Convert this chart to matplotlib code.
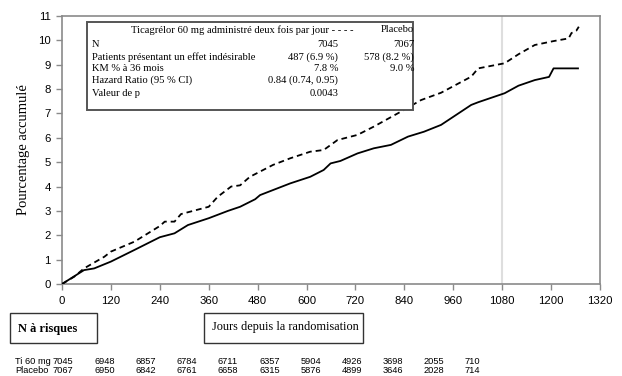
import matplotlib
matplotlib.use("Agg")
import matplotlib.pyplot as plt
from matplotlib.patches import Rectangle

# ---- data ----
days_dashed = [0, 30, 54, 104, 120, 178, 240, 252, 276, 292, 360, 382, 415, 437, 461,
               518, 560, 609, 642, 676, 725, 765, 831, 881, 930, 1004, 1021, 1086,
               1120, 1160, 1206, 1243, 1250, 1262, 1268]
pct_dashed = [0, 0.30, 0.64, 1.12, 1.33, 1.74, 2.38, 2.56, 2.56, 2.87, 3.17, 3.58, 4.00,
              4.05, 4.40, 4.89, 5.16, 5.43, 5.50, 5.91, 6.12, 6.46, 7.07, 7.55, 7.85,
              8.51, 8.85, 9.06, 9.43, 9.81, 9.97, 10.08, 10.30, 10.40, 10.56]

days_solid = [0, 54, 79, 120, 178, 240, 276, 309, 360, 407, 437, 474, 486, 560, 609,
              642, 659, 683, 725, 765, 807, 849, 888, 930, 1004, 1021, 1086, 1120,
              1160, 1195, 1206, 1266]
pct_solid = [0, 0.57, 0.64, 0.92, 1.40, 1.92, 2.08, 2.42, 2.70, 3.00, 3.17, 3.48, 3.65,
             4.13, 4.40, 4.68, 4.95, 5.05, 5.36, 5.57, 5.71, 6.05, 6.25, 6.53, 7.35,
             7.46, 7.83, 8.14, 8.37, 8.50, 8.85, 8.85]

x_ticks = [0, 120, 240, 360, 480, 600, 720, 840, 960, 1080, 1200, 1320]
y_ticks = list(range(0, 12))

risk_ti = [7045, 6948, 6857, 6784, 6711, 6357, 5904, 4926, 3698, 2055, 710]
risk_pl = [7067, 6950, 6842, 6761, 6658, 6315, 5876, 4899, 3646, 2028, 714]

legend_rows = ["N", "Patients présentant un effet indésirable", "KM % à 36 mois",
               "Hazard Ratio (95 % CI)", "Valeur de p"]
legend_ti = ["7045", "487 (6.9 %)", "7.8 %", "0.84 (0.74, 0.95)", "0.0043"]
legend_pl = ["7067", "578 (8.2 %)", "9.0 %", "", ""]

# ---- figure ----
W, H = 622, 376
fig = plt.figure(figsize=(W / 100, H / 100), dpi=100)
fig.patch.set_facecolor("white")

def fx(px):
    return px / W

def fy(py):
    return 1 - py / H

L, R, T, B = 62, 600, 16, 284
ax = fig.add_axes([fx(L), fy(B), fx(R - L), (B - T) / H])

sans = ["Liberation Sans", "DejaVu Sans"]
serif = ["Liberation Serif", "DejaVu Serif"]
gray = "#8a8a8a"

ax.axvline(1080, color="#dedede", lw=1.5, zorder=1)
ax.plot(days_dashed, pct_dashed, color="black", lw=1.3, ls=(0, (3.2, 2.2)), zorder=3)
ax.plot(days_solid, pct_solid, color="black", lw=1.3, zorder=3)

ax.set_xlim(0, 1320)
ax.set_ylim(0, 11)
ax.set_xticks(x_ticks)
ax.set_yticks(y_ticks)
for s in ax.spines.values():
    s.set_color(gray)
    s.set_linewidth(1.2)
ax.tick_params(axis="both", colors=gray, length=4, width=1.0, labelcolor="black",
               labelsize=8.2)
for lab in ax.get_xticklabels() + ax.get_yticklabels():
    lab.set_fontfamily(sans)
ax.tick_params(axis="x", pad=5)
ax.tick_params(axis="y", pad=4)

ax.set_ylabel("Pourcentage accumulé", fontfamily=serif, fontsize=10.5, labelpad=6)

# ---- legend box ----
bx0, by0, bx1, by1 = 87, 22, 413, 110
fig.patches.append(Rectangle((fx(bx0), fy(by1)), fx(bx1 - bx0), (by1 - by0) / H,
                             transform=fig.transFigure, facecolor="white",
                             edgecolor="#555555", lw=1.4, zorder=5))
tfs = 7.6
fig.text(fx(242), fy(30), "Ticagrélor 60 mg administré deux fois par jour - - - -",
         ha="center", va="center", fontfamily=serif, fontsize=tfs, zorder=6)
fig.text(fx(414), fy(30), "Placebo", ha="right", va="center", fontfamily=serif,
         fontsize=tfs, zorder=6)
row_y = [44.5, 57, 68.5, 80, 93]
for i, yy in enumerate(row_y):
    fig.text(fx(92), fy(yy), legend_rows[i], ha="left", va="center",
             fontfamily=serif, fontsize=tfs, zorder=6)
    fig.text(fx(338), fy(yy), legend_ti[i], ha="right", va="center",
             fontfamily=serif, fontsize=tfs, zorder=6)
    if legend_pl[i]:
        fig.text(fx(414), fy(yy), legend_pl[i], ha="right", va="center",
                 fontfamily=serif, fontsize=tfs, zorder=6)

# ---- bottom boxes ----
fig.patches.append(Rectangle((fx(10), fy(343)), fx(87), 30 / H,
                             transform=fig.transFigure, facecolor="white",
                             edgecolor="#333333", lw=1.0))
fig.text(fx(18), fy(329), "N à risques", ha="left", va="center", fontfamily=serif,
         fontsize=8.9, fontweight="bold")
fig.patches.append(Rectangle((fx(204), fy(343)), fx(159), 30 / H,
                             transform=fig.transFigure, facecolor="white",
                             edgecolor="#333333", lw=1.0))
fig.text(fx(285), fy(327), "Jours depuis la randomisation", ha="center",
         va="center", fontfamily=serif, fontsize=8.8)

# ---- numbers at risk ----
rfs = 6.7
fig.text(fx(15), fy(361), "Ti 60 mg", ha="left", va="center", fontfamily=sans,
         fontsize=rfs)
fig.text(fx(15), fy(370.5), "Placebo", ha="left", va="center", fontfamily=sans,
         fontsize=rfs)
for i, (a, b) in enumerate(zip(risk_ti, risk_pl)):
    x = 53 + 41.2 * i
    fig.text(fx(x), fy(361), str(a), ha="left", va="center", fontfamily=sans,
             fontsize=rfs)
    fig.text(fx(x), fy(370.5), str(b), ha="left", va="center", fontfamily=sans,
             fontsize=rfs)

fig.savefig("out.png", dpi=100, facecolor="white")
